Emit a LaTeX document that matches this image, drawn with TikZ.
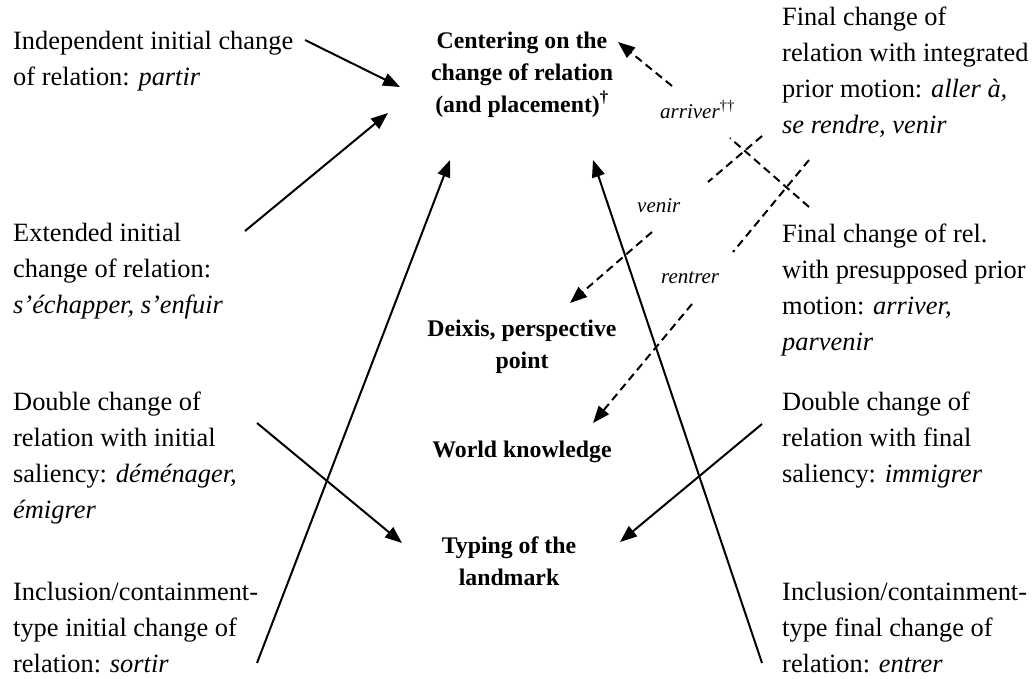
\documentclass[tikz,border=0pt]{standalone}
\usepackage{fontspec}
\setmainfont{Liberation Serif}
\usetikzlibrary{arrows.meta}
\begin{document}
\begin{tikzpicture}[x=1pt,y=-1pt,
  body/.style={anchor=base west, align=left, inner sep=0pt, font=\fontsize{26.4}{35.8}\selectfont},
  hub/.style={anchor=base, align=center, inner sep=0pt, font=\bfseries\fontsize{23.8}{32}\selectfont},
  lab/.style={anchor=base west, inner sep=0pt, font=\itshape\fontsize{21}{25}\selectfont},
  arr/.style={line width=2pt, -{Triangle[length=17pt,width=13pt]}},
  darr/.style={line width=2pt, dash pattern=on 8pt off 5pt, -{Triangle[length=17pt,width=13pt]}},
  dseg/.style={line width=2pt, dash pattern=on 8pt off 5pt}]
\fill[white] (0,0) rectangle (1035,678);
\useasboundingbox (0,0) rectangle (1035,678);

% left column (positions give the baseline of the last line)
\node[body] (indep) at (13,85) {Independent initial change\\of relation: \textit{partir}};
\node[body] (ext) at (13,313) {Extended initial\\change of relation:\\\textit{s’échapper, s’enfuir}};
\node[body] (dblinit) at (13,518) {Double change of\\relation with initial\\saliency: \textit{déménager,}\\\textit{émigrer}};
\node[body] (inclinit) at (13,672) {Inclusion/containment-\\type initial change of\\relation: \textit{sortir}};

% right column
\node[body] (finint) at (782,133) {Final change of\\relation with integrated\\prior motion: \textit{aller à,}\\\textit{se rendre, venir}};
\node[body] (finpre) at (782,350) {Final change of rel.\\with presupposed prior\\motion: \textit{arriver,}\\\textit{parvenir}};
\node[body] (dblfin) at (782,482) {Double change of\\relation with final\\saliency: \textit{immigrer}};
\node[body] (inclfin) at (782,672) {Inclusion/containment-\\type final change of\\relation: \textit{entrer}};

% centre
\node[hub] (centre) at (522,112) {Centering on the\\change of relation\\(and placement)\textsuperscript{†}};
\node[hub] (deixis) at (522,368) {Deixis, perspective\\point};
\node[hub] (world) at (522,457) {World knowledge};
\node[hub] (typing) at (509,585) {Typing of the\\landmark};

% labels
\node[lab] (larr) at (660,118) {arriver\textsuperscript{\upshape ††}};
\node[lab] (lven) at (637,212) {venir};
\node[lab] (lren) at (661,283) {rentrer};

% coordinates
\coordinate (a1s) at (305,40);  \coordinate (a1e) at (400,87);
\coordinate (a2s) at (245,231); \coordinate (a2e) at (388,113);
\coordinate (a3s) at (257,663); \coordinate (a3e) at (450,160);
\coordinate (a4s) at (257,423); \coordinate (a4e) at (402,543);
\coordinate (a5s) at (762,424); \coordinate (a5e) at (620,542);
\coordinate (a6s) at (762,663); \coordinate (a6e) at (593,160);

\coordinate (d1s) at (809,207); \coordinate (d1a) at (730,138);
\coordinate (d1b) at (672,86);  \coordinate (d1e) at (618,42);
\coordinate (d2s) at (762,136); \coordinate (d2a) at (708,182);
\coordinate (d2b) at (652,232); \coordinate (d2e) at (570,303);
\coordinate (d3s) at (809,160); \coordinate (d3a) at (733,252);
\coordinate (d3b) at (692,304); \coordinate (d3e) at (593,423);

% solid arrows
\draw[arr] (a1s) -- (a1e);
\draw[arr] (a2s) -- (a2e);
\draw[arr] (a3s) -- (a3e);
\draw[arr] (a4s) -- (a4e);
\draw[arr] (a5s) -- (a5e);
\draw[arr] (a6s) -- (a6e);

% dashed arrows
\draw[dseg] (d1s) -- (d1a);
\draw[darr] (d1b) -- (d1e);
\draw[dseg] (d2s) -- (d2a);
\draw[darr] (d2b) -- (d2e);
\draw[dseg] (d3s) -- (d3a);
\draw[darr] (d3b) -- (d3e);
\end{tikzpicture}
\end{document}
